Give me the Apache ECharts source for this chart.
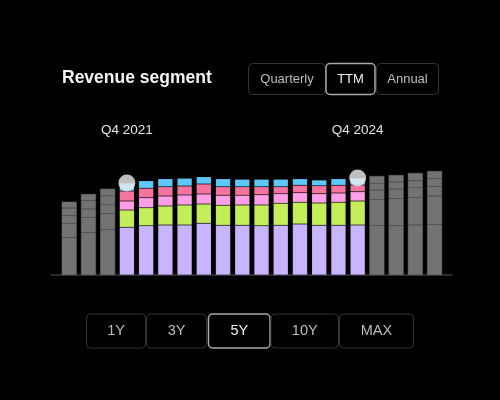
<!DOCTYPE html>
<html>
<head>
<meta charset="utf-8">
<script src="https://cdn.jsdelivr.net/npm/echarts@6/dist/echarts.min.js"></script>
<style>
html,body{margin:0;padding:0;background:#000;}
#c{width:500px;height:400px;}
</style>
</head>
<body>
<div id="c"></div>
<script>
// Categories (TTM quarters)
const categories = ['Q1 2021','Q2 2021','Q3 2021','Q4 2021','Q1 2022','Q2 2022','Q3 2022','Q4 2022','Q1 2023','Q2 2023','Q3 2023','Q4 2023','Q1 2024','Q2 2024','Q3 2024','Q4 2024','Q1 2025','Q2 2025','Q3 2025','Q4 2025'];
// Segment values (bottom to top), in billions
const segA = [150,170,181,191,197,200,200,207,199,199,197,199,204,199,199,200,197,198,200,202]; // lavender
const segB = [ 57, 61, 65, 69, 72, 76, 80, 77, 80, 81, 83, 88, 87, 89, 92, 96,106,108,111,114]; // green
const segC = [ 31, 33, 35, 36, 40, 40, 40, 40, 40, 39, 41, 38, 38, 37, 37, 37, 37, 38, 38, 39]; // pink
const segD = [ 30, 34, 36, 40, 38, 37, 36, 40, 34, 34, 32, 28, 30, 32, 31, 27, 27, 28, 29, 30]; // rose
const segE = [ 25, 26, 28, 32, 30, 32, 31, 29, 32, 30, 30, 30, 26, 23, 26, 28, 29, 28, 30, 31]; // blue
// Highlighted range and its end markers
const rangeStart = 'Q4 2021';
const rangeEnd = 'Q4 2024';
const markerCats = [rangeStart, rangeEnd];
const topButtons = ['Quarterly','TTM','Annual'];
const bottomButtons = ['1Y','3Y','5Y','10Y','MAX'];

const segColors = ['#c8b4ff','#c3ee5a','#ffa0e6','#f5739f','#5fc8fa'];
const grayColor = '#737373';
const iStart = categories.indexOf(rangeStart), iEnd = categories.indexOf(rangeEnd);
const segs = [segA,segB,segC,segD,segE];

const barSeries = segs.map((arr, s) => ({
  type:'bar', stack:'rev', barWidth:15, xAxisIndex:0, yAxisIndex:0,
  data: arr.map((v,i)=>{
    const on = i>=iStart && i<=iEnd;
    return {value:v, itemStyle:on
      ? {color:segColors[s], borderColor:'rgba(0,0,0,0.12)', borderWidth:0.6}
      : {color:grayColor, borderColor:'#6a6a6a', borderWidth:0.5}};
  }),
  emphasis:{disabled:true}, silent:true
}));
const totals = categories.map((c,i)=>segs.reduce((a,arr)=>a+arr[i],0));
const dotSeries = {
  type:'scatter', xAxisIndex:0, yAxisIndex:0, symbolSize:17, z:10, silent:true,
  itemStyle:{color:'#eeeeee'},
  data: markerCats.map(c=>[categories.indexOf(c), totals[categories.indexOf(c)]])
};

// UI buttons
const graphics = [];
function btn(x,y,w,h,label,sel,fs){
  graphics.push({type:'rect', shape:{x:x,y:y,width:w,height:h,r:4},
    style:{fill:'#000', stroke:sel?'#a8a8a8':'#333', lineWidth:sel?1.5:1}, silent:true});
  graphics.push({type:'text', x:x+w/2, y:y+h/2,
    style:{text:label, fill:sel?'#f0f0f0':'#bdbdbd', font:'400 '+fs+'px "Liberation Sans", Arial, sans-serif', textAlign:'center', textVerticalAlign:'middle'}, silent:true});
}
const topX = [248.5,326,376.5], topW = [77,49,62];
topButtons.forEach((b,i)=>btn(topX[i],63.5,topW[i],31,b,b==='TTM',13));
const botX = [86.5,146.5,208.5,271,339.5], botW = [59,60,61.5,67.5,74];
bottomButtons.forEach((b,i)=>btn(botX[i],314,botW[i],34,b,b==='5Y',14.5));

const chart = echarts.init(document.getElementById('c'), null, {renderer:'canvas'});
chart.setOption({
  backgroundColor:'#000',
  animation:false,
  title:{text:'Revenue segment', left:62, top:69, padding:0,
    textStyle:{color:'#f2f2f2', fontSize:17.5, fontWeight:'bold', fontFamily:'"Liberation Sans", Arial, sans-serif'}},
  grid:[
    {left:59.6, right:55.8, top:150, bottom:125},
    {left:51, right:48, top:150, bottom:125}
  ],
  xAxis:[
    {type:'category', gridIndex:0, data:categories, position:'bottom',
     axisLine:{show:false}, axisTick:{show:false}, axisLabel:{show:false}},
    {type:'category', gridIndex:0, data:categories, position:'top',
     axisLine:{show:false}, axisTick:{show:false},
     axisLabel:{interval:(i,v)=>markerCats.includes(v), margin:13, color:'#e6e6e6', fontSize:13.5,
       fontFamily:'"Liberation Sans", Arial, sans-serif'}},
    {type:'value', gridIndex:1, min:0, max:1, show:true,
     axisLine:{show:true, lineStyle:{color:'#3a3a3a', width:1.5}}, axisTick:{show:false}, axisLabel:{show:false}, splitLine:{show:false}}
  ],
  yAxis:[
    {type:'value', gridIndex:0, min:0, max:500, show:false},
    {type:'value', gridIndex:1, min:0, max:1, show:false}
  ],
  series:[...barSeries, dotSeries],
  graphic: graphics
});
</script>
</body>
</html>
